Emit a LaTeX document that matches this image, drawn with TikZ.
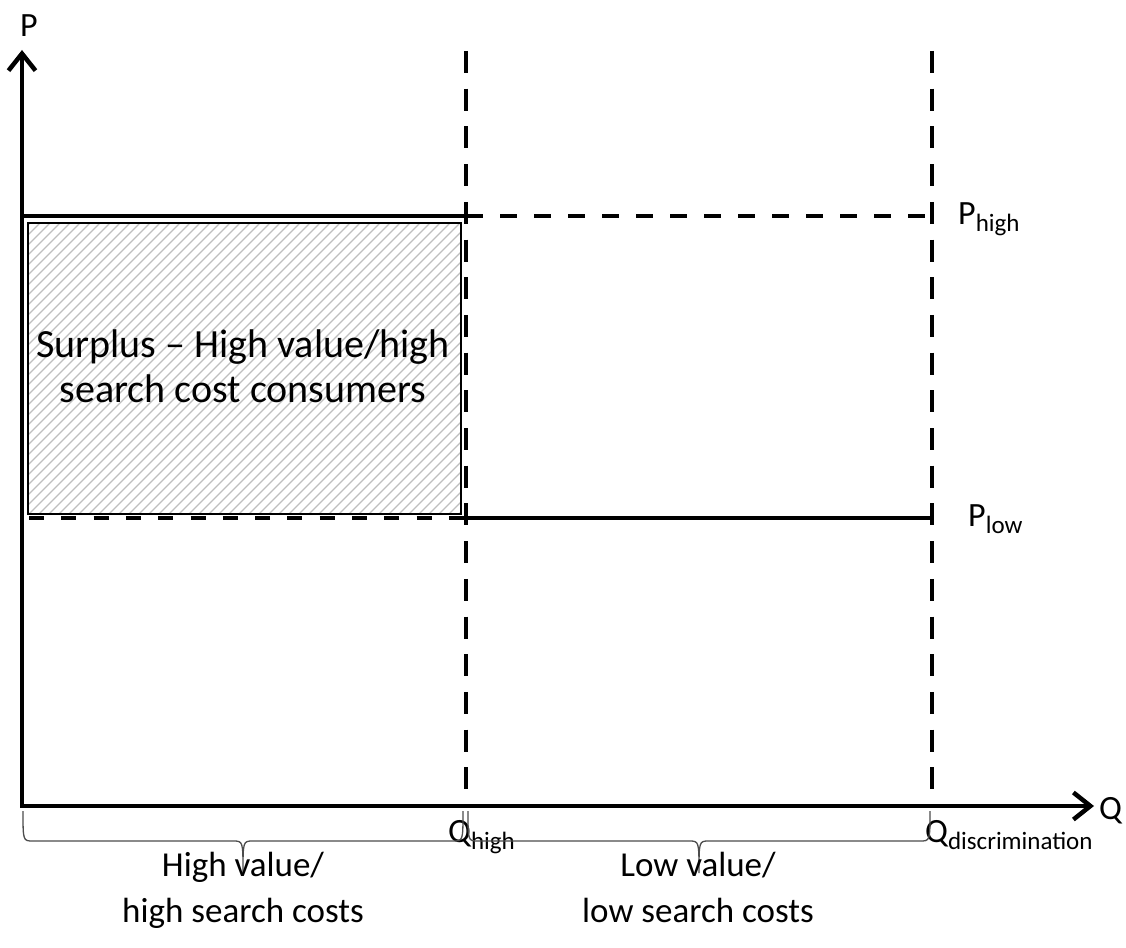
\documentclass[tikz,border=0pt]{standalone}
\usepackage{fontspec}
\setmainfont{Carlito}
\usetikzlibrary{arrows.meta}
\newcommand\lowtext[1]{\raisebox{-7pt}{\fontsize{25}{30}\selectfont #1}}
\tikzset{
  axisline/.style={line width=4.5pt, line join=miter,
    {Straight Barb[length=17pt,width=27pt]}-{Straight Barb[length=17pt,width=27pt]}},
  vdashed/.style={line width=4.5pt, dash pattern=on 22pt off 15.7pt},
  hdashed/.style={line width=4.5pt, dash pattern=on 17pt off 17pt},
  ldashed/.style={line width=4.5pt, dash pattern=on 15pt off 17.3pt},
  solidline/.style={line width=4.5pt},
  bracestyle/.style={line width=1.3pt, draw=black!70},
  hatchline/.style={draw=black!25, line width=1.3pt},
  lbl/.style={font=\fontsize{34}{40}\selectfont, inner sep=0pt},
  bottomlbl/.style={font=\fontsize{35}{46}\selectfont, inner sep=0pt, align=center},
  surplusbox/.style={draw, line width=2pt, inner sep=0pt, anchor=north west,
    minimum width=433pt, minimum height=291pt},
}
\begin{document}
\begin{tikzpicture}[x=1pt,y=-1pt]
\useasboundingbox (0,0) rectangle (1126,947);
% hatching of the surplus area
\begin{scope}
  \clip (27,222) rectangle (460,513);
  \foreach \i in {-300,-290,...,440}{\draw[hatchline] (27+\i,516) -- ++(304,-304);}
\end{scope}
\node[surplusbox] (surplus) at (27,222) {};
\node[font=\fontsize{40}{45}\selectfont, align=center, anchor=base, inner sep=0pt] (surplustext) at (243,402) {Surplus – High value/high\\search cost consumers};
% coordinates
\coordinate (O) at (22,806);
\coordinate (ytop) at (22,50);
\coordinate (xend) at (1094,806);
\coordinate (qh1) at (466,51);
\coordinate (qh0) at (466,806);
\coordinate (qd1) at (932,51);
\coordinate (qd0) at (932,806);
\coordinate (ph0) at (22,216);
\coordinate (ph1) at (466,216);
\coordinate (ph2) at (932,216);
\coordinate (pl0) at (27,518);
\coordinate (pl1) at (466,518);
\coordinate (pl2) at (932,518);
% lines
\draw[vdashed] (qh1) -- (qh0);
\draw[vdashed] (qd1) -- (qd0);
\draw[solidline] (ph0) -- (ph1);
\draw[hdashed] (ph1) -- (ph2);
\draw[ldashed, dash phase=-2pt] (pl0) -- (pl1);
\draw[solidline] (pl1) -- (pl2);
\draw[axisline] (ytop) -- (O) -- (xend);
% labels
\node[lbl, anchor=base west] (plabel) at (20,37) {P};
\node[lbl, anchor=base west] (qlabel) at (1099,819) {Q};
\node[lbl, anchor=base west] (phigh) at (958,224) {P\lowtext{high}};
\node[lbl, anchor=base west] (plow) at (968,526) {P\lowtext{low}};
\node[lbl, anchor=base west] (qhigh) at (448,842) {Q\lowtext{high}};
\node[lbl, anchor=base west] (qdisc) at (925,842) {Q\lowtext{discrimination}};
% braces
\draw[bracestyle] (23,811) .. controls (23,841) .. (33,841) -- (233,841)
  .. controls (243,841) .. (243,873) .. controls (243,841) .. (253,841)
  -- (453,841) .. controls (463,841) .. (463,811);
\draw[bracestyle] (468,811) .. controls (468,841) .. (478,841) -- (689,841)
  .. controls (699,841) .. (699,873) .. controls (699,841) .. (709,841)
  -- (920,841) .. controls (930,841) .. (930,811);
\node[bottomlbl, anchor=base] (hvlabel) at (243,922) {High value/\\high search costs};
\node[bottomlbl, anchor=base] (lvlabel) at (698,922) {Low value/\\low search costs};
\end{tikzpicture}
\end{document}
